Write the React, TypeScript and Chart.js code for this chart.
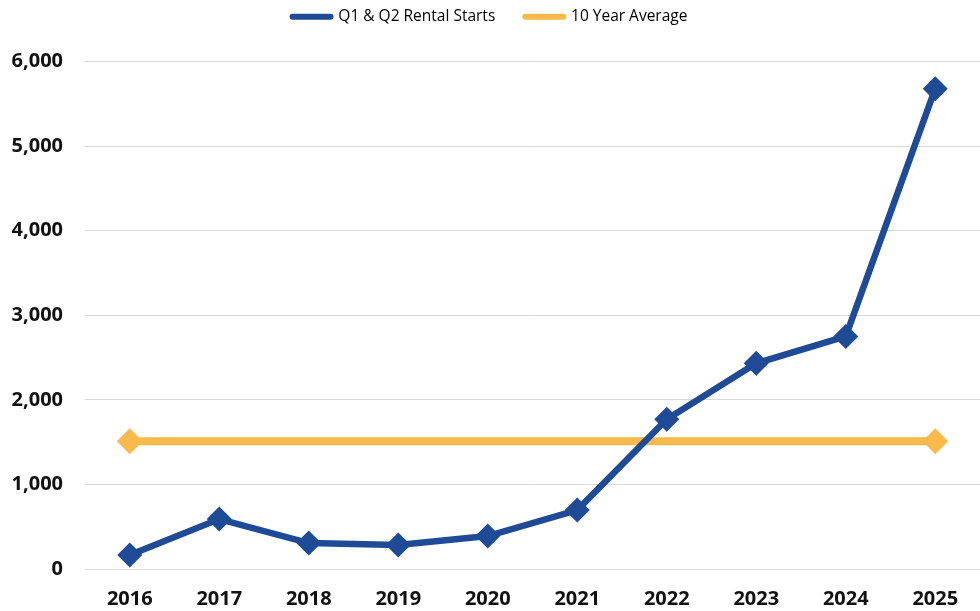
import React, { useEffect, useRef } from "react";
import { Chart, registerables } from "chart.js";

Chart.register(...registerables);

const categories = ["2016", "2017", "2018", "2019", "2020", "2021", "2022", "2023", "2024", "2025"];
const rentalStarts = [165, 590, 307, 283, 390, 697, 1771, 2432, 2750, 5679];
const tenYearAverage = [1511, 1511, 1511, 1511, 1511, 1511, 1511, 1511, 1511, 1511];
const yTicks = [0, 1000, 2000, 3000, 4000, 5000, 6000];

const BLUE = "#1F4A96";
const YELLOW = "#F9B94B";

const legendGap = {
  id: "legendGap",
  beforeInit(chart: any) {
    const legend = chart.legend;
    if (!legend) return;
    const origFit = legend.fit;
    legend.fit = function () {
      origFit.call(this);
      this.height += 27;
    };
  },
};

export default function App() {
  const ref = useRef<HTMLCanvasElement | null>(null);

  useEffect(() => {
    document.body.style.margin = "0";
    const canvas = ref.current;
    if (!canvas) return;
    const lastIdx = tenYearAverage.length - 1;
    const chart = new Chart(canvas, {
      type: "line",
      plugins: [legendGap],
      data: {
        labels: categories,
        datasets: [
          {
            label: "Q1 & Q2 Rental Starts",
            data: rentalStarts,
            borderColor: BLUE,
            backgroundColor: BLUE,
            borderWidth: 6.5,
            pointStyle: "rectRot",
            pointRadius: 12.5,
            pointBorderWidth: 0,
            pointBackgroundColor: BLUE,
            tension: 0,
            clip: false,
            order: 1,
          },
          {
            label: "10 Year Average",
            data: tenYearAverage,
            borderColor: YELLOW,
            backgroundColor: YELLOW,
            borderWidth: 8,
            pointStyle: "rectRot",
            pointRadius: tenYearAverage.map((_, i) => (i === 0 || i === lastIdx ? 13 : 0)),
            pointBorderWidth: 0,
            pointBackgroundColor: YELLOW,
            tension: 0,
            clip: false,
            order: 2,
          },
        ],
      },
      options: {
        animation: false,
        responsive: false,
        maintainAspectRatio: false,
        layout: { autoPadding: false, padding: { top: -21, bottom: -18, left: 0, right: 0 } },
        plugins: {
          tooltip: { enabled: false },
          legend: {
            position: "top",
            align: "center",
            labels: {
              usePointStyle: true,
              pointStyleWidth: 38,
              boxHeight: 6,
              padding: 30,
              color: "#404040",
              font: { family: "'Open Sans'", size: 15.5 },
              generateLabels: (c) =>
                c.data.datasets.map((ds, i) => ({
                  text: ds.label as string,
                  fillStyle: ds.borderColor as string,
                  strokeStyle: ds.borderColor as string,
                  lineWidth: 6,
                  lineCap: "round",
                  pointStyle: "line",
                  hidden: !c.isDatasetVisible(i),
                  datasetIndex: i,
                })),
            },
          },
        },
        scales: {
          x: {
            offset: true,
            afterFit: (scale: any) => {
              scale.paddingRight = 0;
              scale.paddingLeft = 0;
            },
            grid: { display: false, drawTicks: false },
            border: { display: false },
            ticks: {
              color: "#111111",
              padding: 18,
              maxRotation: 0,
              font: { family: "'Open Sans'", size: 20, weight: "bold" },
            },
          },
          y: {
            min: 0,
            max: 6000,
            afterFit: (scale: any) => {
              scale.width = 85;
            },
            afterBuildTicks: (scale: any) => {
              scale.ticks = yTicks.map((v) => ({ value: v }));
            },
            grid: { color: "#D9D9D9", lineWidth: 1, drawTicks: false },
            border: { display: false },
            ticks: {
              color: "#111111",
              padding: 22,
              font: { family: "'Open Sans'", size: 20, weight: "bold" },
              callback: (v: any) => Number(v).toLocaleString("en-US"),
            },
          },
        },
      },
    });
    return () => chart.destroy();
  }, []);

  return (
    <div style={{ width: 980, height: 611, background: "#ffffff" }}>
      <canvas ref={ref} width={980} height={611} style={{ display: "block" }} />
    </div>
  );
}
